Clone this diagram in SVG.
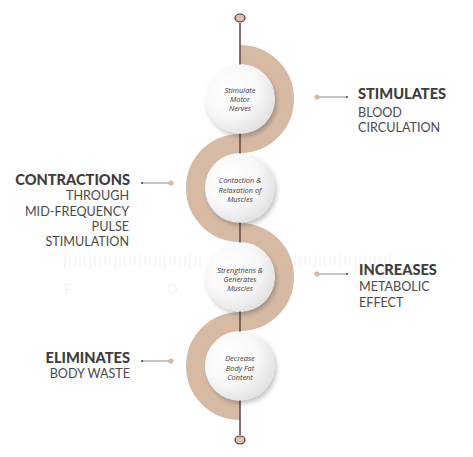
<svg xmlns="http://www.w3.org/2000/svg" width="473" height="457" viewBox="0 0 473 457">
<defs>
<style>
.ct{font-family:"Open Sans","Liberation Sans",sans-serif;font-style:italic;font-size:7.4px;fill:#3a3a3a;text-anchor:middle}
.hb{font-family:Lato,"Liberation Sans",sans-serif;font-weight:900;font-size:14.6px;fill:#3d3d3d}
.hr{font-family:Lato,"Liberation Sans",sans-serif;font-size:12.6px;fill:#4a4a4a}
.wm{font-family:Lato,"Liberation Sans",sans-serif;font-size:13px;fill:#f2f2f2}
.conn{stroke:#8a8a8a;stroke-width:1;fill:none}
.tdot{fill:#d4bba8}
.ddot{fill:#444}
</style>
<radialGradient id="wg" cx="0.35" cy="0.35" r="0.75">
<stop offset="0" stop-color="#ffffff"/>
<stop offset="0.55" stop-color="#f8f8f8"/>
<stop offset="1" stop-color="#dedede"/>
</radialGradient>
<filter id="sh" x="-30%" y="-30%" width="160%" height="160%">
<feGaussianBlur in="SourceAlpha" stdDeviation="2.5"/>
<feOffset dx="2" dy="3" result="b"/>
<feComponentTransfer><feFuncA type="linear" slope="0.25"/></feComponentTransfer>
<feMerge><feMergeNode/><feMergeNode in="SourceGraphic"/></feMerge>
</filter>
</defs>
<rect width="473" height="457" fill="#ffffff"/>
<g id="watermark">
<path d="M65 254V268M70 256V266M75 256V266M80 256V266M85 256V266M90 254V268M95 256V266M100 256V266M105 256V266M110 256V266M115 254V268M120 256V266M125 256V266M130 256V266M135 256V266M140 254V268M145 256V266M150 256V266M155 256V266M160 256V266M165 254V268M170 256V266M175 256V266M180 256V266M185 256V266M190 254V268M195 256V266M200 256V266M280 256V266M285 256V266M290 254V268M295 256V266M300 256V266M305 256V266M310 256V266M315 254V268M320 256V266M325 256V266M330 256V266M335 256V266M340 254V268M345 256V266M350 256V266M355 256V266M360 256V266M365 254V268M370 256V266M375 256V266M380 256V266M385 256V266M390 254V268" stroke="#efefef" stroke-width="1"/>
<text class="wm" x="64" y="294">F</text>
<text class="wm" x="167" y="294">O</text>
</g>
<g id="connectors">
<path d="M240 54.5A44.5 44.5 0 0 1 240 143.5A44.5 44.5 0 0 0 240 232.5A44.5 44.5 0 0 1 240 321.5A44.5 44.5 0 0 0 240 410.5" fill="none" stroke="#d6baa4" stroke-width="19"/>
<line x1="240" y1="23" x2="240" y2="435" stroke="#5e4242" stroke-width="1.5"/>
<ellipse cx="240" cy="18" rx="5" ry="4" fill="#d9c2b0" stroke="#4a3535" stroke-width="1.2"/>
<ellipse cx="240" cy="440" rx="5" ry="4" fill="#d9c2b0" stroke="#4a3535" stroke-width="1.2"/>
<line class="conn" x1="317" y1="97" x2="347" y2="97"/>
<circle class="tdot" cx="317" cy="97" r="2.6"/><circle class="ddot" cx="347" cy="97" r="1"/>
<line class="conn" x1="142" y1="183" x2="171" y2="183"/>
<circle class="tdot" cx="171" cy="183" r="2.6"/><circle class="ddot" cx="142" cy="183" r="1"/>
<line class="conn" x1="317" y1="274" x2="347" y2="274"/>
<circle class="tdot" cx="317" cy="274" r="2.6"/><circle class="ddot" cx="347" cy="274" r="1"/>
<line class="conn" x1="142" y1="361" x2="171" y2="361"/>
<circle class="tdot" cx="171" cy="361" r="2.6"/><circle class="ddot" cx="142" cy="361" r="1"/>
</g>
<g id="node1">
<circle cx="240" cy="99" r="34.5" fill="url(#wg)" filter="url(#sh)"/>
<text class="ct" x="240" y="93">Stimulate</text>
<text class="ct" x="240" y="102">Motor</text>
<text class="ct" x="240" y="111">Nerves</text>
</g>
<g id="node2">
<circle cx="240" cy="188" r="34.5" fill="url(#wg)" filter="url(#sh)"/>
<text class="ct" x="240" y="183">Contaction &amp;</text>
<text class="ct" x="240" y="192.5">Relaxation of</text>
<text class="ct" x="240" y="202">Muscles</text>
</g>
<g id="node3">
<circle cx="240" cy="277" r="34.5" fill="url(#wg)" filter="url(#sh)"/>
<text class="ct" x="240" y="272.5">Strengthens &amp;</text>
<text class="ct" x="240" y="281.5">Generates</text>
<text class="ct" x="240" y="290.5">Muscles</text>
</g>
<g id="node4">
<circle cx="240" cy="366" r="34.5" fill="url(#wg)" filter="url(#sh)"/>
<text class="ct" x="240" y="361">Decrease</text>
<text class="ct" x="240" y="370.5">Body Fat</text>
<text class="ct" x="240" y="380">Content</text>
</g>
<g id="label-stimulates">
<text class="hb" x="358" y="99">STIMULATES</text>
<text class="hr" x="358" y="117">BLOOD</text>
<text class="hr" x="358" y="132">CIRCULATION</text>
</g>
<g id="label-contractions" text-anchor="end">
<text class="hb" x="130" y="185">CONTRACTIONS</text>
<text class="hr" x="129" y="200">THROUGH</text>
<text class="hr" x="129" y="215.5">MID-FREQUENCY</text>
<text class="hr" x="129" y="231">PULSE</text>
<text class="hr" x="129" y="246">STIMULATION</text>
</g>
<g id="label-increases">
<text class="hb" x="359" y="275">INCREASES</text>
<text class="hr" x="359" y="291">METABOLIC</text>
<text class="hr" x="359" y="307">EFFECT</text>
</g>
<g id="label-eliminates" text-anchor="end">
<text class="hb" x="130" y="363">ELIMINATES</text>
<text class="hr" x="130" y="378">BODY WASTE</text>
</g>
</svg>
